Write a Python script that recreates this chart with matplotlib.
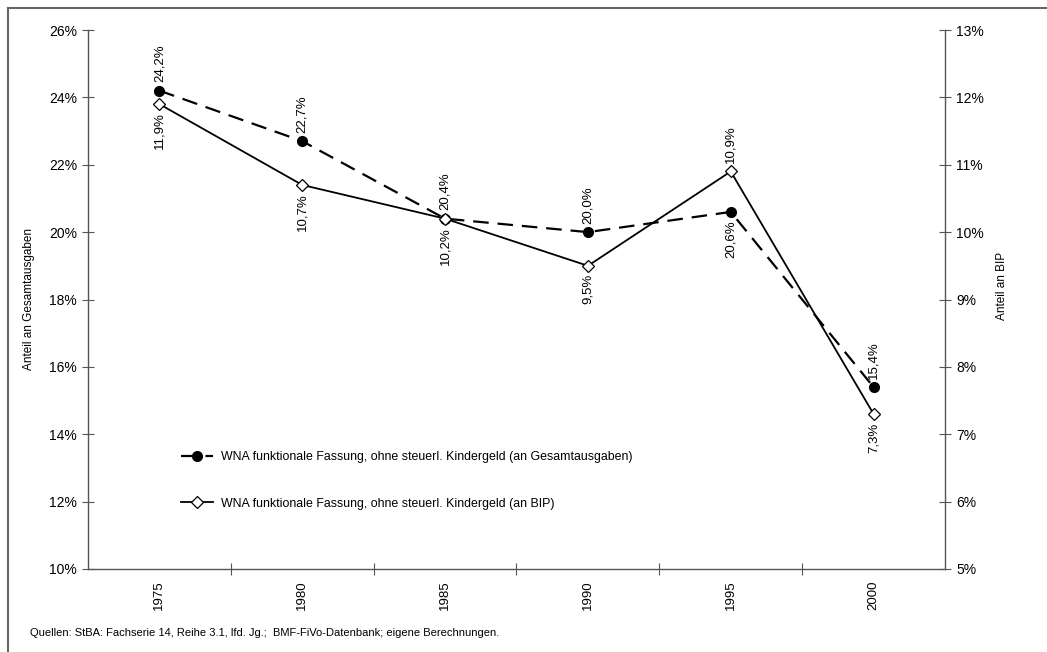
import matplotlib
matplotlib.use("Agg")
import matplotlib.pyplot as plt
from matplotlib.lines import Line2D

plt.rcParams['font.family'] = ['Liberation Sans', 'DejaVu Sans']

years = ["1975", "1980", "1985", "1990", "1995", "2000"]
share_total = [24.2, 22.7, 20.4, 20.0, 20.6, 15.4]   # left axis, % of total expenditure
share_gdp = [11.9, 10.7, 10.2, 9.5, 10.9, 7.3]        # right axis, % of GDP
left_ticks = [10, 12, 14, 16, 18, 20, 22, 24, 26]
right_ticks = [5, 6, 7, 8, 9, 10, 11, 12, 13]
label_total = "WNA funktionale Fassung, ohne steuerl. Kindergeld (an Gesamtausgaben)"
label_gdp = "WNA funktionale Fassung, ohne steuerl. Kindergeld (an BIP)"
source = "Quellen: StBA: Fachserie 14, Reihe 3.1, lfd. Jg.;  BMF-FiVo-Datenbank; eigene Berechnungen."

FS_TICK = 10
FS_DATA = 9.5
FS_YEAR = 9.5
FS_LEG = 8.9
FS_AXL = 8.5
AX = '#555555'

fig = plt.figure(figsize=(10.47, 6.52), dpi=100)
ax = fig.add_axes([88/1047, 1-569/652, (945-88)/1047, (569-30)/652])
ax2 = ax.twinx()

x = list(range(len(years)))
l1, = ax.plot(x, share_total, color='black', lw=1.6, dashes=(7, 4),
              marker='o', markersize=7, markerfacecolor='black', zorder=3)
l2, = ax2.plot(x, share_gdp, color='black', lw=1.3,
               marker='D', markersize=6, markerfacecolor='white',
               markeredgecolor='black', markeredgewidth=0.9, zorder=3)

def fmt(v):
    return f"{v:.1f}".replace('.', ',') + '%'

# data labels: dashed series above except 1995; solid series below except 1995
for i, v in enumerate(share_total):
    above = years[i] != "1995"
    ax.annotate(fmt(v), (i, v), xytext=(0, 6 if above else -6), textcoords='offset points',
                rotation=90, ha='center', va='bottom' if above else 'top', fontsize=FS_DATA)
for i, v in enumerate(share_gdp):
    above = years[i] == "1995"
    ax2.annotate(fmt(v), (i, v), xytext=(0, 6 if above else -6), textcoords='offset points',
                 rotation=90, ha='center', va='bottom' if above else 'top', fontsize=FS_DATA)

ax.set_xlim(-0.5, len(years) - 0.5)
ax.set_ylim(10, 26)
ax2.set_ylim(5, 13)
ax.set_yticks(left_ticks)
ax.set_yticklabels([f"{t}%" for t in left_ticks], fontsize=FS_TICK)
ax2.set_yticks(right_ticks)
ax2.set_yticklabels([f"{t}%" for t in right_ticks], fontsize=FS_TICK)

ax.set_xticks([i + 0.5 for i in range(len(years) - 1)])
ax.set_xticklabels([])
ax.set_xticks(x, minor=True)
ax.set_xticklabels(years, minor=True, rotation=90, fontsize=FS_YEAR)
ax.tick_params(axis='x', which='minor', length=0, pad=8)
ax.tick_params(axis='x', which='major', direction='inout', length=8, color=AX)
ax.tick_params(axis='y', direction='inout', length=8, color=AX, pad=4)
ax2.tick_params(axis='y', direction='inout', length=8, color=AX, pad=4)

for a in (ax, ax2):
    a.spines['top'].set_visible(False)
    for s in a.spines.values():
        s.set_color(AX)
        s.set_linewidth(1.0)
ax2.spines['left'].set_visible(False)
ax2.spines['bottom'].set_visible(False)
ax.spines['right'].set_visible(False)

ax.set_ylabel("Anteil an Gesamtausgaben", fontsize=FS_AXL)
ax.yaxis.set_label_coords(-53/857, 0.5)
ax2.set_ylabel("Anteil an BIP", fontsize=FS_AXL)
ax2.yaxis.set_label_coords(1 + 51/857, 0.525)

ax.legend([l1, l2], [label_total, label_gdp], loc='upper left',
          bbox_to_anchor=(170/1047, 1-440/652), bbox_transform=fig.transFigure,
          frameon=False, fontsize=FS_LEG, labelspacing=2.8, handlelength=2.6,
          handletextpad=0.6)

fig.text(30/1047, 1-633/652, source, fontsize=8, va='center', ha='left')

# outer frame (top and left edges)
fig.add_artist(Line2D([8/1047, 1], [1-8/652, 1-8/652], transform=fig.transFigure, color='#666666', lw=1.5))
fig.add_artist(Line2D([8/1047, 8/1047], [0, 1-8/652], transform=fig.transFigure, color='#666666', lw=1.5))

fig.savefig("out.png", dpi=100)
